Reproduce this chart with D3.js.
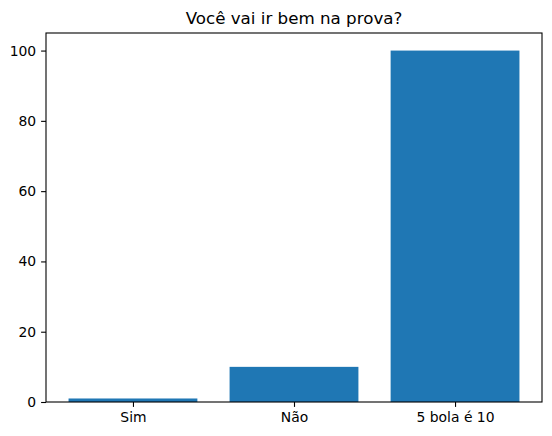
<!DOCTYPE html>
<html lang="pt">
<head>
  <meta charset="UTF-8">
  <title>Você vai ir bem na prova?</title>
  <script src="https://d3js.org/d3.v7.min.js"></script>
  <style>
    body { margin: 0; background: white; }
    text { font-family: "DejaVu Sans", sans-serif; }
    .axis text { font-size: 13.9px; fill: black; }
    .axis path, .axis line { stroke: black; stroke-width: 1.1px; }
    .title { font-size: 16.7px; text-anchor: middle; fill: black; }
  </style>
</head>
<body>
  <div id="chart"></div>
  <script>
    const categories = ["Sim", "Não", "5 bola é 10"];
    const values = [1, 10, 100];
    const yTicks = [0, 20, 40, 60, 80, 100];

    const W = 552, H = 436;
    const margin = { top: 33, right: 10, bottom: 34, left: 46 };
    const width = W - margin.left - margin.right;
    const height = H - margin.top - margin.bottom;

    const svg = d3.select("#chart")
      .append("svg")
      .attr("width", W)
      .attr("height", H);

    const g = svg.append("g")
      .attr("transform", `translate(${margin.left}, ${margin.top})`);

    const barWidth = 0.8;
    const pad = (categories.length - 1 + barWidth) * 0.05;
    const x = d3.scaleLinear()
      .domain([-barWidth / 2 - pad, categories.length - 1 + barWidth / 2 + pad])
      .range([0, width]);

    const y = d3.scaleLinear()
      .domain([0, d3.max(values) * 1.05])
      .range([height, 0]);

    g.selectAll(".bar")
      .data(values)
      .enter()
      .append("rect")
      .attr("class", "bar")
      .attr("x", (d, i) => x(i - barWidth / 2))
      .attr("y", d => y(d))
      .attr("width", x(barWidth) - x(0))
      .attr("height", d => height - y(d))
      .attr("fill", "#1f77b4");

    g.append("g")
      .attr("class", "axis")
      .attr("transform", `translate(0, ${height})`)
      .call(d3.axisBottom(x)
        .tickValues(d3.range(categories.length))
        .tickFormat(i => categories[i])
        .tickSize(4.9).tickPadding(4.9).tickSizeOuter(0))
      .call(a => a.select(".domain").remove());

    g.append("g")
      .attr("class", "axis")
      .call(d3.axisLeft(y)
        .tickValues(yTicks)
        .tickSize(4.9).tickPadding(4.9).tickSizeOuter(0))
      .call(a => a.select(".domain").remove());

    // moldura dos eixos
    g.append("rect")
      .attr("width", width)
      .attr("height", height)
      .attr("fill", "none")
      .attr("stroke", "black")
      .attr("stroke-width", 1.1);

    svg.append("text")
      .attr("class", "title")
      .attr("x", margin.left + width / 2)
      .attr("y", margin.top - 9)
      .text("Você vai ir bem na prova?");
  </script>
</body>
</html>
